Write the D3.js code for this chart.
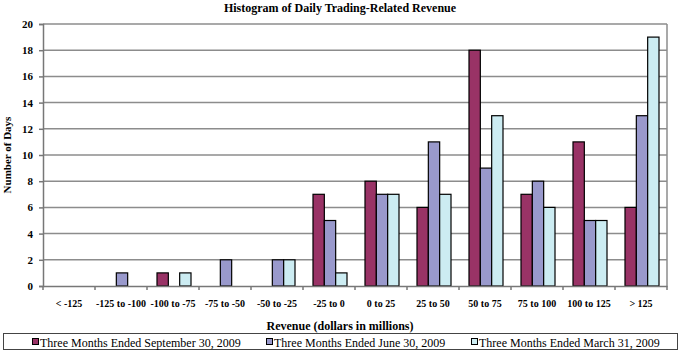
<!DOCTYPE html>
<html>
<head>
<meta charset="utf-8">
<script src="https://cdn.jsdelivr.net/npm/d3@7"></script>
<style>
  body { margin: 0; background: #fff; }
</style>
</head>
<body>
<svg id="draw" width="680" height="352"></svg>
<script>
// data
var categories = ["< -125", "-125 to -100", "-100 to -75", "-75 to -50", "-50 to -25", "-25 to 0",
  "0 to 25", "25 to 50", "50 to 75", "75 to 100", "100 to 125", "> 125"];
var seriesNames = ["Three Months Ended September 30, 2009", "Three Months Ended June 30, 2009",
  "Three Months Ended March 31, 2009"];
var sep2009 = [0, 0, 1, 0, 0, 7, 8, 6, 18, 7, 11, 6];
var jun2009 = [0, 1, 0, 2, 2, 5, 7, 11, 9, 8, 5, 13];
var mar2009 = [0, 0, 1, 0, 2, 1, 7, 7, 13, 6, 5, 19];
var yTicks = [0, 2, 4, 6, 8, 10, 12, 14, 16, 18, 20];
var colors = ["#993366", "#9999cc", "#ccecf2"];

var serif = "'Liberation Serif', 'Times New Roman', 'DejaVu Serif', serif";

var margin = {top: 24, right: 13, bottom: 66, left: 43};
var width = 680 - margin.left - margin.right;
var height = 352 - margin.top - margin.bottom;

var svg = d3.select("#draw").attr("font-family", serif);
var g = svg.append("g")
  .attr("transform", "translate(" + margin.left + "," + margin.top + ")");

var x0 = d3.scaleBand().domain(categories).range([0, width]);
var x1 = d3.scaleBand().domain([0, 1, 2]).range([10, x0.bandwidth() - 8]);
var y = d3.scaleLinear().domain([0, 20]).range([height, 0]);

// gridlines
g.selectAll(".grid")
  .data(yTicks.slice(1))
  .enter().append("line")
  .attr("x1", 0).attr("x2", width)
  .attr("y1", function(d) { return y(d); })
  .attr("y2", function(d) { return y(d); })
  .attr("stroke", "#8c8c8c")
  .attr("stroke-width", 1.5);

// right frame
g.append("line")
  .attr("x1", width).attr("x2", width)
  .attr("y1", 0).attr("y2", height)
  .attr("stroke", "#8c8c8c").attr("stroke-width", 1.5);

// bars
var rows = categories.map(function(c, i) {
  return {cat: c, values: [sep2009[i], jun2009[i], mar2009[i]]};
});

var groups = g.selectAll(".grp")
  .data(rows)
  .enter().append("g")
  .attr("transform", function(d) { return "translate(" + x0(d.cat) + ",0)"; });

groups.selectAll("rect")
  .data(function(d) {
    return d.values.map(function(v, k) { return {k: k, v: v}; }).filter(function(d) { return d.v > 0; });
  })
  .enter().append("rect")
  .attr("x", function(d) { return x1(d.k); })
  .attr("width", x1.bandwidth())
  .attr("y", function(d) { return y(d.v); })
  .attr("height", function(d) { return y(0) - y(d.v); })
  .attr("fill", function(d) { return colors[d.k]; })
  .attr("stroke", "#000")
  .attr("stroke-width", 1.2);

// y axis
var yAxis = g.append("g")
  .call(d3.axisLeft(y).tickValues(yTicks).tickSize(4).tickPadding(6))
  .attr("font-family", serif);
yAxis.select(".domain").attr("stroke", "#777").attr("stroke-width", 1.5);
yAxis.selectAll(".tick line").attr("stroke", "#777").attr("stroke-width", 1.5);
yAxis.selectAll("text")
  .style("font-size", "11px")
  .style("font-weight", "bold")
  .attr("fill", "#000");

// x axis
var xAxis = g.append("g")
  .attr("transform", "translate(0," + height + ")")
  .call(d3.axisBottom(x0).tickSize(0).tickPadding(14))
  .attr("font-family", serif);
xAxis.select(".domain").attr("stroke", "#777").attr("stroke-width", 1.5);
xAxis.selectAll("text")
  .style("font-size", "10px")
  .style("font-weight", "bold")
  .attr("fill", "#000");
// tick marks at category boundaries
xAxis.selectAll(".sep")
  .data(categories.concat(["end"]))
  .enter().append("line")
  .attr("x1", function(d, i) { return i * x0.step(); })
  .attr("x2", function(d, i) { return i * x0.step(); })
  .attr("y1", 0).attr("y2", 4)
  .attr("stroke", "#777").attr("stroke-width", 1.5);

// title
svg.append("text")
  .attr("x", 340).attr("y", 12)
  .attr("text-anchor", "middle")
  .style("font-size", "12px").style("font-weight", "bold")
  .text("Histogram of Daily Trading-Related Revenue");

// y title
svg.append("text")
  .attr("transform", "translate(11," + (margin.top + height / 2) + ") rotate(-90)")
  .attr("text-anchor", "middle")
  .style("font-size", "11px").style("font-weight", "bold")
  .text("Number of Days");

// x title
svg.append("text")
  .attr("x", 340).attr("y", 330)
  .attr("text-anchor", "middle")
  .style("font-size", "12px").style("font-weight", "bold")
  .text("Revenue (dollars in millions)");

// legend
svg.append("rect")
  .attr("x", 3.5).attr("y", 333.5)
  .attr("width", 674).attr("height", 16)
  .attr("fill", "#fff").attr("stroke", "#444").attr("stroke-width", 1);

var legendX = [32, 266, 471];
var leg = svg.selectAll(".leg")
  .data(seriesNames)
  .enter().append("g")
  .attr("transform", function(d, i) { return "translate(" + legendX[i] + ",337)"; });
leg.append("rect")
  .attr("x", 0.5).attr("y", 1.5)
  .attr("width", 6).attr("height", 6)
  .attr("fill", function(d, i) { return colors[i]; })
  .attr("stroke", "#000");
leg.append("text")
  .attr("x", 8).attr("y", 9.5)
  .style("font-size", "12px")
  .text(function(d) { return d; });
</script>
</body>
</html>
